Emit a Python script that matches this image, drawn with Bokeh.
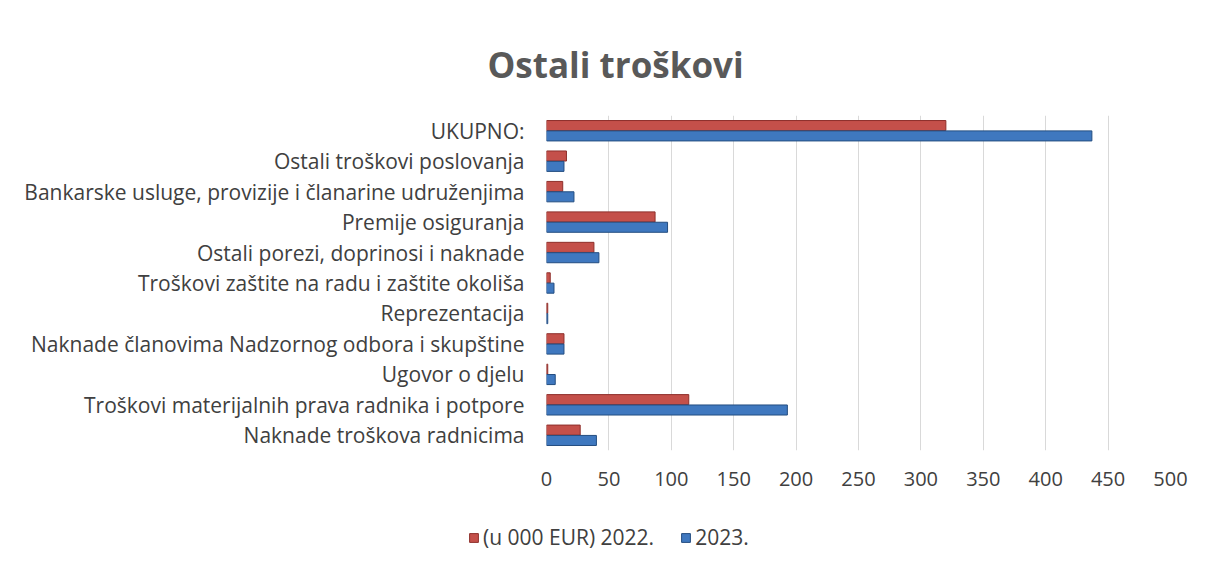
from bokeh.plotting import figure
from bokeh.models import ColumnDataSource, FactorRange, Legend, LegendItem, FixedTicker, Range1d
from bokeh.transform import dodge
from bokeh.layouts import column, row
from bokeh.embed import file_html
from bokeh.resources import INLINE

# categories from top to bottom
categories = [
    "UKUPNO:",
    "Ostali troškovi poslovanja",
    "Bankarske usluge, provizije i članarine udruženjima",
    "Premije osiguranja",
    "Ostali porezi, doprinosi i naknade",
    "Troškovi zaštite na radu i zaštite okoliša",
    "Reprezentacija",
    "Naknade članovima Nadzornog odbora i skupštine",
    "Ugovor o djelu",
    "Troškovi materijalnih prava radnika i potpore",
    "Naknade troškova radnicima",
]
vals_2022 = [320, 16, 13, 87, 38, 3, 1, 14, 1, 114, 27]
vals_2023 = [437, 14, 22, 97, 42, 6, 1, 14, 7, 193, 40]
x_ticks = [0, 50, 100, 150, 200, 250, 300, 350, 400, 450, 500]
series_labels = ["(u 000 EUR) 2022.", "2023."]
title_text = "Ostali troškovi"

FONT = "Open Sans"
TXT = "#404040"
RED, RED_L = "#c4504a", "#8e2f2b"
BLUE, BLUE_L = "#3f78bf", "#234d80"

source = ColumnDataSource(dict(cat=categories, v22=vals_2022, v23=vals_2023))

p = figure(
    width=1194, height=495,
    y_range=FactorRange(factors=list(reversed(categories)), range_padding=0),
    x_range=Range1d(0, 500),
    output_backend="svg", toolbar_location=None,
    min_border_left=546, min_border_right=24,
    min_border_top=115, min_border_bottom=45,
)

r22 = p.hbar(y=dodge("cat", 0.17, range=p.y_range), right="v22", left=0, height=0.33,
             source=source, fill_color=RED, line_color=RED_L, line_width=1)
r23 = p.hbar(y=dodge("cat", -0.17, range=p.y_range), right="v23", left=0, height=0.33,
             source=source, fill_color=BLUE, line_color=BLUE_L, line_width=1)

p.title.text = title_text
p.title.text_font = FONT
p.title.text_font_size = "35px"
p.title.text_font_style = "bold"
p.title.text_color = "#595959"
p.title.align = "left"
p.title.offset = -59
p.title.standoff = 55

p.xaxis.ticker = FixedTicker(ticks=x_ticks)
p.xaxis.axis_line_color = None
p.xaxis.major_tick_line_color = None
p.xaxis.minor_tick_line_color = None
p.xaxis.major_label_text_font = FONT
p.xaxis.major_label_text_font_size = "20px"
p.xaxis.major_label_text_color = TXT
p.xaxis.major_label_standoff = 15

p.yaxis.axis_line_color = None
p.yaxis.major_tick_line_color = None
p.yaxis.major_label_text_font = FONT
p.yaxis.major_label_text_font_size = "21px"
p.yaxis.major_label_text_color = TXT
p.yaxis.major_label_standoff = 16

p.xgrid.grid_line_color = "#d9d9d9"
p.ygrid.grid_line_color = None
p.outline_line_color = None

# legend strip below the chart (hidden proxy renderers carry the legend swatches)
lf = figure(width=1194, height=60, x_range=Range1d(0, 1), y_range=Range1d(0, 1),
            output_backend="svg", toolbar_location=None,
            min_border_left=0, min_border_right=0, min_border_top=0, min_border_bottom=0)
lf.axis.visible = False
lf.grid.visible = False
lf.outline_line_color = None
l22 = lf.hbar(y="v22", right="v22", left=0, height=1, source=source,
              fill_color=RED, line_color=RED_L, visible=False)
l23 = lf.hbar(y="v23", right="v23", left=0, height=1, source=source,
              fill_color=BLUE, line_color=BLUE_L, visible=False)
legend = Legend(items=[LegendItem(label=series_labels[0], renderers=[l22]),
                       LegendItem(label=series_labels[1], renderers=[l23])],
                orientation="horizontal", location=(468, 4),
                label_text_font=FONT, label_text_font_size="21px", label_text_color=TXT,
                glyph_width=11, glyph_height=11, spacing=26, border_line_color=None,
                background_fill_alpha=0, margin=0, padding=4, label_standoff=4,
                inactive_fill_alpha=0)
lf.add_layout(legend, "center")

layout = column(p, row(lf), spacing=0)
open("out.html", "w").write(file_html(layout, INLINE))
